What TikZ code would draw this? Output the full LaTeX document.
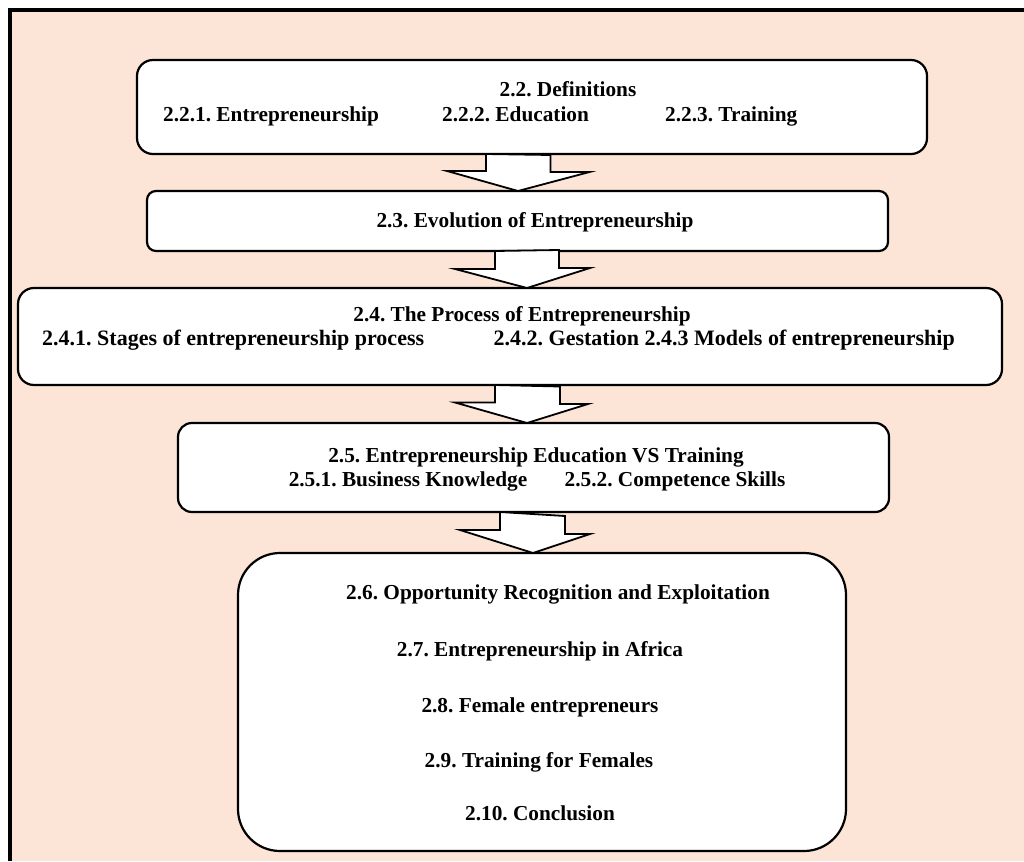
\documentclass[tikz,border=0pt]{standalone}
\usepackage{fontspec}
\setmainfont{Liberation Serif}
\usetikzlibrary{calc}
\definecolor{bgpink}{RGB}{252,228,214}
\frenchspacing
\begin{document}
\begin{tikzpicture}[x=1pt,y=-1pt,
  box/.style={draw=black,line width=2.2pt,fill=white,inner sep=0pt,outer sep=0pt},
  lbl/.style={font=\fontsize{21.3}{24}\selectfont\bfseries,inner sep=0pt,anchor=base},
  wlbl/.style={font=\fontsize{22}{25}\selectfont\bfseries,inner sep=0pt},
  blockarrow/.style={draw=black,line width=1.8pt,fill=white,line join=miter}]
\useasboundingbox (0,0) rectangle (1024,861);
\fill[white] (0,0) rectangle (1024,861);
\fill[bgpink] (12,12) rectangle (1024,861);
\draw[line width=4pt] (10,861) -- (10,10) -- (1024,10);

% boxes
\node[box,rounded corners=16pt,minimum width=790pt,minimum height=94pt] (b1) at (532,107) {};
\node[box,rounded corners=9pt,minimum width=741pt,minimum height=60pt] (b2) at (517.5,221) {};
\node[box,rounded corners=16pt,minimum width=984pt,minimum height=97pt] (b3) at (510,336.5) {};
\node[box,rounded corners=14pt,minimum width=711pt,minimum height=89pt] (b4) at (533.5,467.5) {};
\node[box,rounded corners=42pt,minimum width=608pt,minimum height=298pt] (b5) at (542,702) {};

% block arrows
\draw[blockarrow] ($(b1.south)+(-46,0)$) -- ++(0,17) -- ++(-39,0) -- ($(b2.north)+(0.5,0)$) -- ++(71.5,-19) -- ++(-39,0) -- ++(0,-17) -- cycle;
\draw[blockarrow] ($(b2.south)+(-22.5,0)$) -- ++(0,18) -- ++(-40,0) -- ($(b3.north)+(17,0)$) -- ++(63,-20) -- ++(-31,0) -- ++(0,-18) -- cycle;
\draw[blockarrow] ($(b3.south)+(-15,0)$) -- ++(0,17.5) -- ++(-40,0) -- ($(b4.north)+(-6.5,0)$) -- ++(61,-19) -- ++(-28,0) -- ++(0,-17.5) -- cycle;
\draw[blockarrow] ($(b4.south)+(-33.5,0)$) -- ++(0,18) -- ++(-40,0) -- ($(b5.north)+(-9,0)$) -- ++(57,-19) -- ++(-25,0) -- ++(0,-18) -- cycle;

% texts
\node[lbl] (t22) at (568,97) {2.2. Definitions};
\node[lbl,anchor=base west] (t221) at (163,122) {2.2.1. Entrepreneurship};
\node[lbl,anchor=base west] (t222) at (442,122) {2.2.2. Education};
\node[lbl,anchor=base west] (t223) at (665,122) {2.2.3. Training};
\node[lbl] (t23) at (535,227) {2.3. Evolution of Entrepreneurship};
\node[lbl] (t24) at (522,321) {2.4. The Process of Entrepreneurship};
\node[wlbl,anchor=base west] (t241) at (42,345) {2.4.1. Stages of entrepreneurship process};
\node[wlbl,anchor=base east] (t242) at (955,345) {2.4.2. Gestation 2.4.3 Models of entrepreneurship};
\node[lbl] (t25) at (536,462) {2.5. Entrepreneurship Education VS Training};
\node[lbl] (t251) at (408,486) {2.5.1. Business Knowledge};
\node[lbl] (t252) at (675,486) {2.5.2. Competence Skills};
\node[lbl] (t26) at (558,599) {2.6. Opportunity Recognition and Exploitation};
\node[lbl] (t27) at (540,656) {2.7. Entrepreneurship in Africa};
\node[lbl] (t28) at (540,712) {2.8. Female entrepreneurs};
\node[lbl] (t29) at (539,767) {2.9. Training for Females};
\node[lbl] (t210) at (540,820) {2.10. Conclusion};
\end{tikzpicture}
\end{document}
